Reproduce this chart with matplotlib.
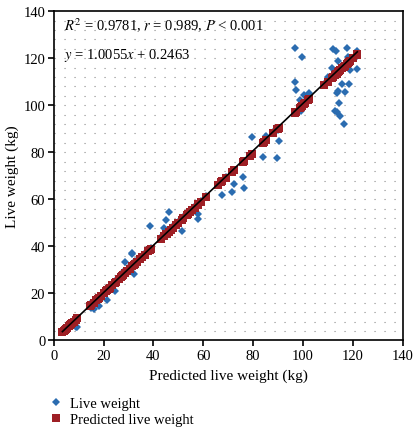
import numpy as np
import matplotlib
matplotlib.use('Agg')
import matplotlib.pyplot as plt

# Predicted live weight (x) and measured live weight (y), kg
pred = [3.5, 4.0, 4.5, 5.0, 5.5, 6.0, 6.5, 7.0, 7.5, 8.0, 8.8, 9.5,
        14.5, 15.0, 16.0, 17.0, 17.7, 18.0, 19.0, 20.0, 21.0, 21.5, 22.0, 22.5,
        23.5, 24.4, 25.0, 26.0, 27.0, 27.5,
        28.0, 28.7, 29.5, 30.5, 31.5, 31.6, 32.2, 32.6, 33.5, 34.5, 35.5, 36.5,
        38.0, 38.5, 39.0,
        43.0, 44.3, 45.2, 45.4, 46.1, 47.0, 48.0, 49.0, 50.0, 51.3, 52.0, 53.3,
        53.9, 54.5, 55.5, 56.5, 57.8, 58.0, 59.0,
        61.0, 66.0, 67.3, 67.6, 69.0, 71.6, 72.3, 75.9, 76.3, 76.0, 78.6,
        79.4, 83.9, 84.4, 85.3, 88.0, 89.7, 90.0, 90.3,
        96.9, 97.0, 97.3, 98.9, 99.2, 99.8, 100.4, 101.0, 102.1, 102.5,
        108.5, 110.0, 111.8, 111.9, 112.2, 112.9, 113.1, 113.5, 113.5, 114.0,
        114.2, 114.5, 114.8, 115.0, 115.8, 116.3, 116.8, 117.7, 118.1, 118.4,
        118.9, 120.0, 121.5, 121.6, 121.8]
live = [4.0, 3.8, 5.0, 4.6, 6.0, 5.5, 7.2, 6.8, 8.0, 7.5, 5.8, 5.8,
        15.5, 14.0, 13.5, 17.5, 18.5, 14.7, 19.5, 20.5, 21.5, 17.2, 22.0, 23.0,
        24.0, 21.2, 25.5, 26.0, 27.5, 26.5,
        29.0, 33.2, 30.0, 31.5, 36.8, 37.1, 28.1, 33.6, 34.0, 35.0, 35.5, 37.0,
        38.0, 48.7, 39.5,
        44.0, 47.8, 51.2, 46.0, 54.6, 47.5, 48.5, 49.0, 50.5, 46.6, 52.5, 54.0,
        54.7, 55.0, 55.5, 57.0, 53.7, 51.7, 59.5,
        61.5, 66.5, 67.0, 61.9, 69.5, 63.0, 66.4, 76.0, 64.7, 69.5, 79.0,
        86.5, 77.9, 84.0, 86.8, 88.5, 77.4, 89.5, 85.0,
        124.4, 109.9, 106.5, 102.2, 97.5, 120.5, 104.2, 101.5, 102.0, 105.4,
        109.0, 112.0, 115.7, 124.0, 113.0, 97.7, 123.2, 105.2, 97.0, 119.0,
        105.9, 101.0, 95.6, 115.5, 109.2, 91.9, 105.7, 124.2, 120.7, 109.0,
        115.2, 119.5, 115.6, 123.2, 121.0]

slope = 1.0055
intercept = 0.2463

plt.rcParams['font.family'] = ['Liberation Serif', 'DejaVu Serif']
plt.rcParams['mathtext.fontset'] = 'stix'

fig = plt.figure(figsize=(4.13, 4.35), dpi=100)
ax = fig.add_axes([0.13, 0.215, 0.845, 0.757])

# Dotted background grid
for gy in np.arange(4, 140, 4):
    ax.axhline(gy, color='#8a8a8a', lw=0.8, ls=(0, (1, 8)), zorder=0)

# Observed and predicted points
ax.plot(pred, live, 'D', color='#2b6cb0', ms=3.8, mew=0, label='Live weight', zorder=2)
ax.plot(pred, pred, 's', color='#9e1f25', ms=5.5, mew=0, label='Predicted live weight', zorder=3)

# Regression line
xs = np.array([min(pred), max(pred)])
ax.plot(xs, slope * xs + intercept, color='black', lw=1.2, zorder=4)

ax.set_xlim(0, 140)
ax.set_ylim(0, 140)
ax.set_xticks(range(0, 141, 20))
ax.set_yticks(range(0, 141, 20))
ax.tick_params(direction='out', length=4, width=1.2, labelsize=10.5, pad=2)
for s in ax.spines.values():
    s.set_linewidth(1.2)

ax.set_xlabel('Predicted live weight (kg)', fontsize=11, labelpad=5)
ax.set_ylabel('Live weight (kg)', fontsize=11, labelpad=3)

ax.text(4, 132, '$R^2$ = 0.9781, $r$ = 0.989, $P$ < 0.001', fontsize=10.5)
ax.text(4, 120, '$y$ = 1.0055$x$ + 0.2463', fontsize=10.5)

fig.legend(loc='upper left', bbox_to_anchor=(0.11, 0.088), frameon=False,
           fontsize=10.5, handletextpad=0.4, labelspacing=0.15, handlelength=1.2,
           borderaxespad=0, borderpad=0.1)

plt.savefig('out.png', dpi=100)
